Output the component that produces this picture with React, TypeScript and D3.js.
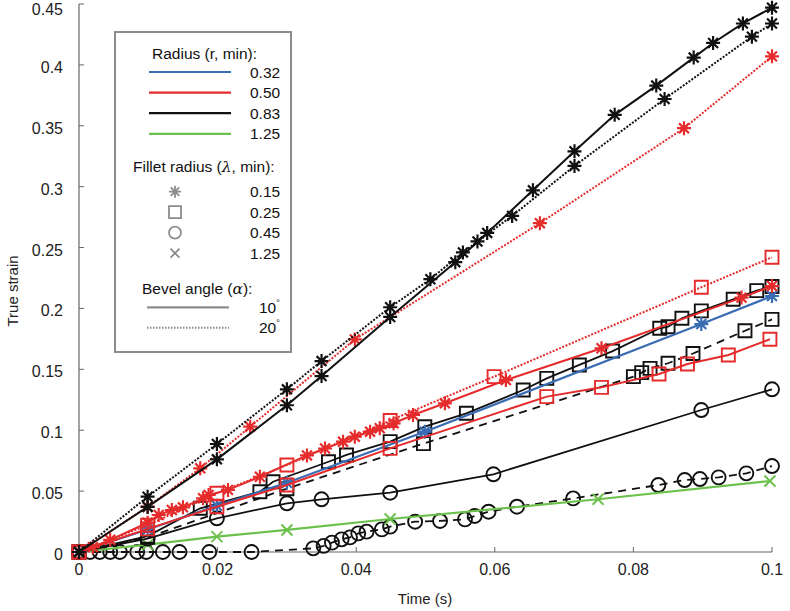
import React from "react";
import * as d3 from "d3";

// ---------- data ----------
const xTicks = [0, 0.02, 0.04, 0.06, 0.08, 0.1];
const yTicks = [0, 0.05, 0.1, 0.15, 0.2, 0.25, 0.3, 0.35, 0.4, 0.45];

const radiusLabels = ["0.32", "0.50", "0.83", "1.25"];
const filletLabels = ["0.15", "0.25", "0.45", "1.25"];
const bevelLabels = ["10", "20"];

// r=0.83, λ=0.15, 10°
const blackAstSolid: [number, number][] = [
  [0, 0], [0.0099, 0.037], [0.0199, 0.0761], [0.03, 0.1205], [0.035, 0.1445], [0.0449, 0.193],
  [0.0543, 0.238], [0.0589, 0.262], [0.0655, 0.297], [0.0715, 0.329], [0.0773, 0.359],
  [0.0833, 0.383], [0.0887, 0.406], [0.0915, 0.418], [0.0958, 0.434], [0.1, 0.447],
];
// r=0.83, λ=0.15, 20°
const blackAstDotted: [number, number][] = [
  [0, 0], [0.0099, 0.0454], [0.0199, 0.0887], [0.03, 0.1336], [0.035, 0.1568], [0.0449, 0.201],
  [0.0507, 0.224], [0.0554, 0.246], [0.0575, 0.255], [0.0625, 0.276], [0.0715, 0.317],
  [0.0845, 0.372], [0.0971, 0.4232], [0.1, 0.434],
];
// r=0.50, λ=0.15, 20°
const redAstDotted: [number, number][] = [
  [0, 0], [0.0099, 0.0372], [0.0175, 0.0687], [0.0247, 0.1029], [0.0398, 0.1746],
  [0.0665, 0.27], [0.0873, 0.348], [0.1, 0.407],
];
// r=0.50, λ=0.15, 10°
const redAstSolid: [number, number][] = [
  [0, 0], [0.002, 0.004], [0.0045, 0.01], [0.0099, 0.024], [0.0115, 0.0304], [0.0134, 0.0345],
  [0.015, 0.0367], [0.0179, 0.0441], [0.0187, 0.0468], [0.0215, 0.051], [0.0261, 0.0618],
  [0.0329, 0.0793], [0.0355, 0.085], [0.0381, 0.0906], [0.0398, 0.0947], [0.042, 0.0988],
  [0.0434, 0.1016], [0.0454, 0.1057], [0.0482, 0.1125], [0.0528, 0.1221], [0.0616, 0.1412],
  [0.0754, 0.1673], [0.0956, 0.2089], [0.1, 0.2184],
];
// r=0.50, λ=0.25, 20°
const redSqDotted: [number, number][] = [
  [0, 0], [0.0099, 0.022], [0.0199, 0.0482], [0.03, 0.0714], [0.0449, 0.108], [0.0599, 0.144],
  [0.0898, 0.2174], [0.1, 0.242],
];
// r=0.50, λ=0.25, 10°
const redSqSolid: [number, number][] = [
  [0, 0], [0.0099, 0.019], [0.0199, 0.0372], [0.03, 0.055], [0.0449, 0.0851], [0.0675, 0.1276],
  [0.0754, 0.1352], [0.0837, 0.1462], [0.0878, 0.1544], [0.0937, 0.1618], [0.0997, 0.1747],
];
// r=0.32, λ=0.15, 10°
const blueAstSolid: [number, number][] = [
  [0, 0], [0.0099, 0.0185], [0.0199, 0.038], [0.03, 0.0569], [0.0499, 0.0988], [0.0898, 0.1872],
  [0.1, 0.2102],
];
// r=0.83, λ=0.25, 10°
const blackSqSolid: [number, number][] = [
  [0, 0], [0.0099, 0.013], [0.0175, 0.0359], [0.0261, 0.0495], [0.028, 0.0577], [0.036, 0.0741],
  [0.0386, 0.0797], [0.0449, 0.0906], [0.0499, 0.1029], [0.0559, 0.1139], [0.0641, 0.133],
  [0.0675, 0.1426], [0.0722, 0.1536], [0.077, 0.165], [0.0838, 0.1837], [0.085, 0.185],
  [0.087, 0.192], [0.0898, 0.198], [0.0944, 0.2075], [0.0978, 0.2146], [0.1, 0.218],
];
// r=0.83, λ=0.25, 20°
const blackSqDashed: [number, number][] = [
  [0, 0], [0.0099, 0.012], [0.03, 0.052], [0.0497, 0.089], [0.08, 0.144], [0.0812, 0.1473],
  [0.0824, 0.1508], [0.085, 0.155], [0.0886, 0.163], [0.0961, 0.1817], [0.1, 0.191],
];
// r=0.83, λ=0.45, 10°
const blackCircSolid: [number, number][] = [
  [0, 0], [0.0099, 0.011], [0.0199, 0.0277], [0.03, 0.04], [0.035, 0.0433], [0.0449, 0.0487],
  [0.0598, 0.0638], [0.0898, 0.1166], [0.1, 0.1336],
];
// r=0.83, λ=0.45, 20°
const blackCircDashed: [number, number][] = [
  [0, 0], [0.0016, 0], [0.003, 0], [0.0045, 0], [0.0059, 0], [0.0084, 0], [0.0097, 0],
  [0.0121, 0], [0.0145, 0], [0.0188, 0], [0.0249, 0], [0.0338, 0.003], [0.0353, 0.005],
  [0.0365, 0.0077], [0.0379, 0.0104], [0.0391, 0.012], [0.0403, 0.0153], [0.0415, 0.0167],
  [0.0437, 0.0186], [0.0449, 0.0208], [0.0485, 0.0249], [0.0521, 0.0255], [0.0557, 0.0268],
  [0.0571, 0.0296], [0.0591, 0.0331], [0.0632, 0.0372], [0.0713, 0.044], [0.0836, 0.055],
  [0.0874, 0.0591], [0.0896, 0.0599], [0.0923, 0.0613], [0.0963, 0.0646], [0.1, 0.0706],
];
// r=1.25, λ=1.25, 10°
const greenXSolid: [number, number][] = [
  [0, 0], [0.0099, 0.006], [0.0199, 0.0126], [0.03, 0.0181], [0.0449, 0.0271], [0.0749, 0.0433],
  [0.0997, 0.0583],
];

// ---------- styles ----------
const BLUE = "#3a6cb4";
const RED = "#e52b2b";
const BLACK = "#111";
const GREEN = "#6cc04c";
const GRAY = "#8c8c8c";
const FONT = "'Liberation Sans', Arial, sans-serif";

type Marker = "ast" | "sq" | "circ" | "x";

const series: { data: [number, number][]; color: string; marker: Marker; dash: string | null; sw: number }[] = [
  { data: blackCircDashed, color: BLACK, marker: "circ", dash: "8,6", sw: 1.8 },
  { data: greenXSolid, color: GREEN, marker: "x", dash: null, sw: 2.2 },
  { data: blackCircSolid, color: BLACK, marker: "circ", dash: null, sw: 1.8 },
  { data: blackSqDashed, color: BLACK, marker: "sq", dash: "8,6", sw: 1.8 },
  { data: blackSqSolid, color: BLACK, marker: "sq", dash: null, sw: 1.8 },
  { data: blueAstSolid, color: BLUE, marker: "ast", dash: null, sw: 2.2 },
  { data: redSqSolid, color: RED, marker: "sq", dash: null, sw: 2 },
  { data: redSqDotted, color: RED, marker: "sq", dash: "2,1.5", sw: 2 },
  { data: redAstSolid, color: RED, marker: "ast", dash: null, sw: 2 },
  { data: redAstDotted, color: RED, marker: "ast", dash: "2,1.5", sw: 2 },
  { data: blackAstDotted, color: BLACK, marker: "ast", dash: "2,1.5", sw: 2 },
  { data: blackAstSolid, color: BLACK, marker: "ast", dash: null, sw: 2 },
];

function markerPath(m: Marker, s: number): string {
  if (m === "ast") {
    const d = s * Math.SQRT1_2;
    return `M${-s},0L${s},0M0,${-s}L0,${s}M${-d},${-d}L${d},${d}M${-d},${d}L${d},${-d}`;
  }
  if (m === "sq") return `M${-s},${-s}L${s},${-s}L${s},${s}L${-s},${s}Z`;
  if (m === "x") return `M${-s},${-s}L${s},${s}M${-s},${s}L${s},${-s}`;
  return `M${s},0A${s},${s} 0 1 1 ${-s},0A${s},${s} 0 1 1 ${s},0Z`;
}

const markerSize: Record<Marker, number> = { ast: 7, sq: 6.5, circ: 7, x: 5.5 };

export default function App() {
  const W = 790, H = 611;
  const x = d3.scaleLinear().domain([0, 0.1]).range([79, 772]);
  const y = d3.scaleLinear().domain([0, 0.45]).range([552, 4]);
  const line = d3.line<[number, number]>().x((d) => x(d[0])).y((d) => y(d[1]));
  const fmt = (v: number) => String(+v.toFixed(2));

  const legX = 115, legY = 32, legW = 176, legH = 320;
  const lineColors = [BLUE, RED, BLACK, GREEN];
  const legMarkers: Marker[] = ["ast", "sq", "circ", "x"];

  return (
    <svg width={W} height={H} style={{ position: "absolute", left: 0, top: 0, background: "#fff" }} fontFamily={FONT}>
      {/* axes */}
      <line x1={x(0)} x2={x(0)} y1={y(0.45)} y2={y(0)} stroke="#666" strokeWidth={1.2} />
      <line x1={x(0)} x2={x(0.1)} y1={y(0)} y2={y(0)} stroke="#666" strokeWidth={1.2} />
      {yTicks.map((t) => (
        <g key={"y" + t}>
          <line x1={x(0)} x2={x(0) + 5} y1={y(t)} y2={y(t)} stroke="#666" strokeWidth={1} />
          <text x={63} y={Math.max(y(t) + 8, 15)} textAnchor="end" fontSize={16} fill="#222">{fmt(t)}</text>
        </g>
      ))}
      {xTicks.map((t) => (
        <g key={"x" + t}>
          <line x1={x(t)} x2={x(t)} y1={y(0)} y2={y(0) - 5} stroke="#666" strokeWidth={1} />
          <text x={x(t)} y={575} textAnchor="middle" fontSize={16} fill="#222">{fmt(t)}</text>
        </g>
      ))}
      <text x={425} y={604} textAnchor="middle" fontSize={15} fill="#222">Time (s)</text>
      <text transform="translate(18,291) rotate(-90)" textAnchor="middle" fontSize={15} fill="#222">True strain</text>

      {/* series */}
      {series.map((s, i) => (
        <g key={"s" + i}>
          <path d={line(s.data) || ""} fill="none" stroke={s.color} strokeWidth={s.sw}
            strokeDasharray={s.dash || undefined} />
          {s.data.map((p, j) => (
            <path key={j} d={markerPath(s.marker, markerSize[s.marker])}
              transform={`translate(${x(p[0])},${y(p[1])})`} fill="none" stroke={s.color}
              strokeWidth={s.marker === "ast" ? 2.2 : 1.9} />
          ))}
        </g>
      ))}

      {/* legend */}
      <rect x={legX} y={legY} width={legW} height={legH} fill="#fff" stroke={GRAY} strokeWidth={2} />
      <text x={152} y={58.5} fontSize={15.5} fill="#111">Radius (r, min):</text>
      {radiusLabels.map((l, i) => (
        <g key={"r" + l}>
          <line x1={149} x2={231} y1={72 + i * 20.6} y2={72 + i * 20.6} stroke={lineColors[i]} strokeWidth={2.2} />
          <text x={250} y={72 + i * 20.6 + 5.5} fontSize={15.5} fill="#111">{l}</text>
        </g>
      ))}
      <text x={133} y={172} fontSize={15.5} fill="#111">
        Fillet radius (<tspan fontStyle="italic" fontFamily="'DejaVu Serif', serif">λ</tspan>, min):
      </text>
      {filletLabels.map((l, i) => (
        <g key={"f" + i}>
          <path d={markerPath(legMarkers[i], legMarkers[i] === "x" ? 4.5 : 6)}
            transform={`translate(175,${191.7 + i * 20.5})`} fill="none" stroke={GRAY} strokeWidth={1.8} />
          <text x={250} y={191.7 + i * 20.5 + 5.5} fontSize={15.5} fill="#111">{l}</text>
        </g>
      ))}
      <text x={142} y={294} fontSize={15.5} fill="#111">
        Bevel angle (<tspan fontStyle="italic" fontFamily="'DejaVu Serif', serif">α</tspan>):
      </text>
      {bevelLabels.map((l, i) => (
        <g key={"b" + i}>
          <line x1={147} x2={229} y1={307.3 + i * 20.5} y2={307.3 + i * 20.5} stroke={GRAY}
            strokeWidth={i === 0 ? 2.2 : 2} strokeDasharray={i === 0 ? undefined : "1.5,1.5"} />
          <text x={259} y={307.3 + i * 20.5 + 5.5} fontSize={15.5} fill="#111">
            {l}<tspan fontSize={9} dy={-7}>°</tspan>
          </text>
        </g>
      ))}
    </svg>
  );
}
